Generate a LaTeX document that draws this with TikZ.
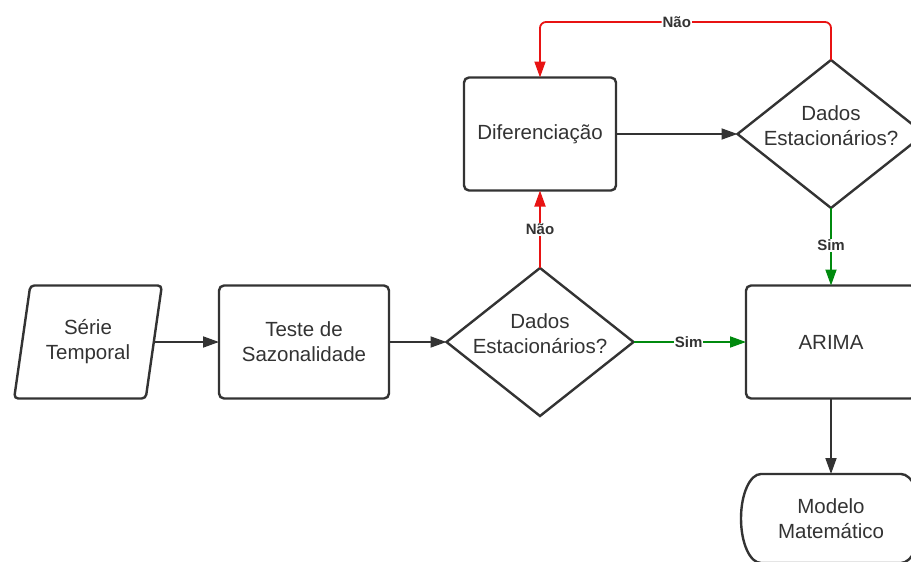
\documentclass[tikz,border=0pt]{standalone}
\usepackage{fontspec}
\setmainfont{Liberation Sans}
\usetikzlibrary{shapes.geometric,arrows.meta}
\definecolor{linegray}{HTML}{333333}
\definecolor{naored}{HTML}{E81313}
\definecolor{simgreen}{HTML}{008A0E}
\tikzset{
  shapeline/.style={draw=linegray, line width=2.4pt},
  txt/.style={text=linegray, align=center, font=\fontsize{20.5}{25}\selectfont},
  procbox/.style={shapeline, txt, rounded corners=5pt, minimum height=113pt, outer sep=0pt},
  decision/.style={shapeline, diamond, aspect=1.26, inner sep=0pt,
    minimum width=187pt, minimum height=148pt, outer sep=0pt},
  dectext/.style={txt, yshift=8pt},
  dataio/.style={shapeline, txt, trapezium, trapezium left angle=76, trapezium right angle=104,
    trapezium stretches=true, rounded corners=4pt, minimum width=148pt, minimum height=113pt, outer sep=0pt},
  conn/.style={draw=linegray, line width=1.8pt, ->},
  yesno/.style={fill=white, inner sep=1pt, text=linegray, font=\bfseries\fontsize{15}{18}\selectfont}
}
\begin{document}
\begin{tikzpicture}[x=1pt,y=-1pt,>={Triangle[length=16pt,width=11pt]}]
  \useasboundingbox (0,0) rectangle (911,562);
  \clip (0,0) rectangle (911,562);
  % shapes
  \node[dataio] (serie) at (88,342) {Série\\Temporal};
  \node[procbox, minimum width=170pt] (teste) at (304,342) {Teste de\\Sazonalidade};
  \node[decision, label={[dectext]center:Dados\\Estacionários?}] (dec1) at (540,342) {};
  \node[procbox, minimum width=152pt] (diff) at (540,134) {Diferenciação};
  \node[decision, label={[dectext]center:Dados\\Estacionários?}] (dec2) at (831,134) {};
  \node[procbox, minimum width=170pt] (arima) at (831,342) {ARIMA};
  \node[txt, minimum width=180pt, minimum height=89pt, outer sep=0pt] (modelo) at (831,518.5) {Modelo\\Matemático};
  \draw[shapeline] ([xshift=20pt]modelo.north west) -- ([xshift=-20pt]modelo.north east)
    arc[start angle=-90, end angle=90, x radius=20, y radius=44.5]
    -- ([xshift=20pt]modelo.south west)
    arc[start angle=90, end angle=270, x radius=20, y radius=44.5] -- cycle;
  % connectors
  \draw[conn] (serie) -- (teste);
  \draw[conn] (teste) -- (dec1);
  \draw[conn, draw=naored] (dec1.north) -- node[yesno, pos=0.5] {Não} (diff.south);
  \draw[conn, draw=simgreen] (dec1.east) -- node[yesno, pos=0.49] {Sim} (arima.west);
  \draw[conn] (diff) -- (dec2);
  \draw[conn, draw=naored, rounded corners=6pt] (dec2.north) -- (dec2.north |- 0,22)
    -- node[yesno, pos=0.53] {Não} (diff.north |- 0,22) -- (diff.north);
  \draw[conn, draw=simgreen] (dec2.south) -- node[yesno, pos=0.48] {Sim} (arima.north);
  \draw[conn] (arima) -- (modelo);
\end{tikzpicture}
\end{document}
